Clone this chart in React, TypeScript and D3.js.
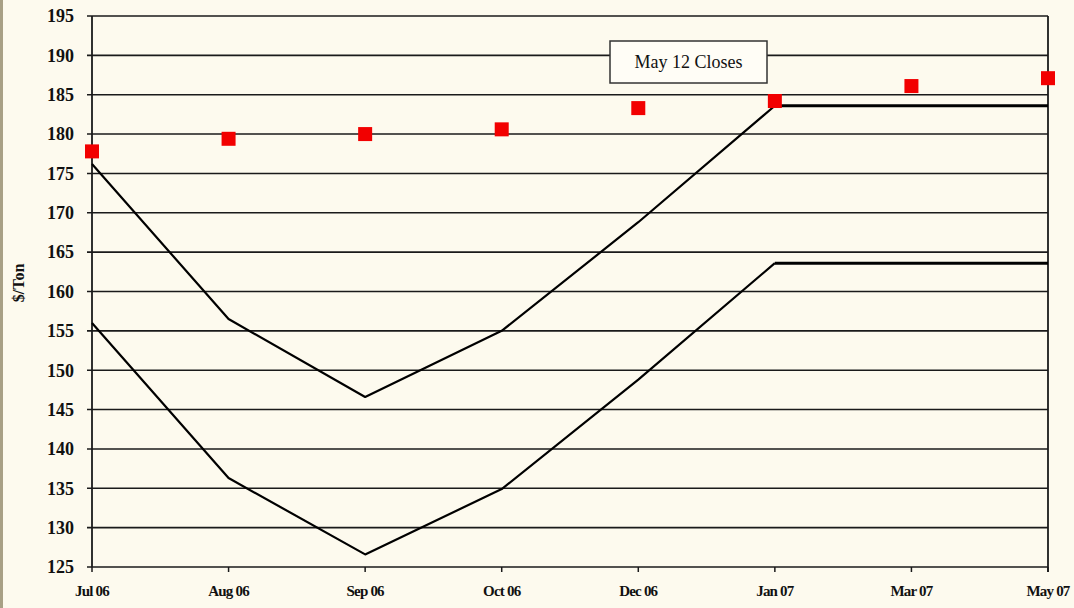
import React from "react";
import * as d3 from "d3";

// Contract months along the x axis
const months = ["Jul 06", "Aug 06", "Sep 06", "Oct 06", "Dec 06", "Jan 07", "Mar 07", "May 07"];

// May 12 closing futures prices ($/ton)
const closes = [177.8, 179.4, 180.0, 180.6, 183.3, 184.2, 186.1, 187.1];

// Upper and lower price bands through Jan 07
const upperBand = [176.2, 156.5, 146.6, 155.0, 168.8, 183.6];
const lowerBand = [156.0, 136.3, 126.6, 134.9, 148.8, 163.6];

// Flat levels carried from Jan 07 to May 07
const flatMonths = ["Jan 07", "May 07"];
const upperFlat = [183.6, 183.6];
const lowerFlat = [163.6, 163.6];

const yTicks = d3.range(125, 196, 5);

const W = 1074;
const H = 608;
const M = { left: 92, right: 1048, top: 16, bottom: 567 };
const SERIF = "'Liberation Serif', Tinos, 'Times New Roman', 'DejaVu Serif', serif";

export default function App() {
  const x = d3.scalePoint<string>().domain(months).range([M.left, M.right]);
  const y = d3.scaleLinear().domain([125, 195]).range([M.bottom, M.top]);

  const line = d3
    .line<[string, number]>()
    .x((d) => x(d[0]) as number)
    .y((d) => y(d[1]));

  const bandPath = (vals: number[]) =>
    line(vals.map((v, i) => [months[i], v] as [string, number])) || "";
  const flatPath = (vals: number[]) =>
    line(vals.map((v, i) => [flatMonths[i], v] as [string, number])) || "";

  const sq = 14;
  const txt = { fontFamily: SERIF };

  return (
    <svg
      width={W}
      height={H}
      style={{ position: "absolute", left: 0, top: 0, display: "block" }}
    >
      <rect x={0} y={0} width={W} height={H} fill="#fdfaee" />
      {/* textured frame edge on the left */}
      <rect x={0} y={0} width={3} height={H} fill="#6f6440" opacity={0.6} />

      {/* horizontal gridlines with left tick marks */}
      {yTicks.map((t) => (
        <g key={t}>
          <line x1={M.left - 5} x2={M.right} y1={y(t)} y2={y(t)} stroke="#1a1a1a" strokeWidth={1.6} />
          <text
            x={74}
            y={y(t)}
            dy="0.35em"
            textAnchor="end"
            fontSize={18}
            fontWeight="bold"
            fill="#111"
            style={txt}
          >
            {t}
          </text>
        </g>
      ))}

      {/* vertical frame */}
      <line x1={M.left} x2={M.left} y1={M.top} y2={M.bottom} stroke="#1a1a1a" strokeWidth={1.8} />
      <line x1={M.right} x2={M.right} y1={M.top} y2={M.bottom + 5} stroke="#1a1a1a" strokeWidth={1.8} />

      {/* x ticks and labels */}
      {months.map((m) => (
        <g key={m}>
          <line
            x1={x(m) as number}
            x2={x(m) as number}
            y1={M.bottom}
            y2={M.bottom + 5}
            stroke="#1a1a1a"
            strokeWidth={1.5}
          />
          <text
            x={x(m) as number}
            y={596}
            textAnchor="middle"
            fontSize={15}
            fontWeight="bold"
            letterSpacing={-0.8}
            fill="#111"
            style={txt}
          >
            {m}
          </text>
        </g>
      ))}

      {/* y axis title */}
      <text
        transform={`translate(24, 283) rotate(-90)`}
        textAnchor="middle"
        fontSize={16}
        fontWeight="bold"
        fill="#111"
        style={txt}
      >
        $/Ton
      </text>

      {/* band lines */}
      <path d={bandPath(upperBand)} fill="none" stroke="#000" strokeWidth={2.2} strokeLinejoin="round" />
      <path d={bandPath(lowerBand)} fill="none" stroke="#000" strokeWidth={2.2} strokeLinejoin="round" />
      <path d={flatPath(upperFlat)} fill="none" stroke="#000" strokeWidth={3} />
      <path d={flatPath(lowerFlat)} fill="none" stroke="#000" strokeWidth={3} />

      {/* closing price markers */}
      {closes.map((v, i) => (
        <rect
          key={months[i]}
          x={(x(months[i]) as number) - sq / 2}
          y={y(v) - sq / 2}
          width={sq}
          height={sq}
          fill="#f20000"
        />
      ))}

      {/* legend */}
      <rect x={610} y={41} width={157} height={42} fill="#fffdf6" stroke="#333" strokeWidth={1.5} />
      <text x={688.5} y={62} dy="0.35em" textAnchor="middle" fontSize={18} fill="#111" style={txt}>
        May 12 Closes
      </text>
    </svg>
  );
}
